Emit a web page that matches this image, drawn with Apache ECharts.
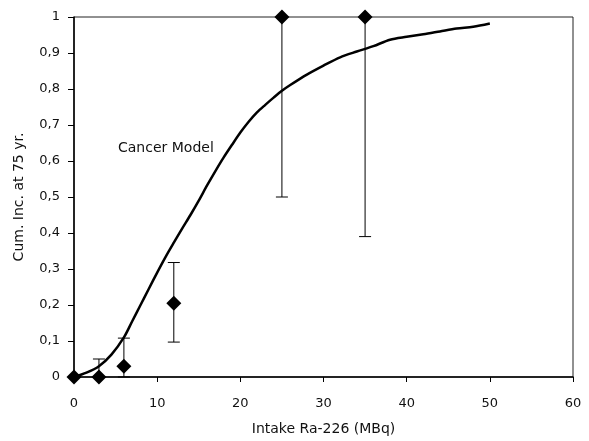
<!DOCTYPE html>
<html>
<head>
<meta charset="utf-8">
<script src="https://cdn.jsdelivr.net/npm/echarts@6/dist/echarts.min.js"></script>
<style>
  html, body { margin: 0; padding: 0; background: #fff; }
  #chart { width: 589px; height: 441px; }
</style>
</head>
<body>
<div id="chart"></div>
<script>
// Cancer model curve: cumulative incidence at age 75 vs. Ra-226 intake (MBq)
const modelIntake = [0, 1.5, 3, 4.5, 6, 7, 8, 9, 10, 11, 12, 13, 14, 15, 16, 17, 18, 19, 20,
  21, 22, 23, 24, 25, 26, 28, 30, 32, 34, 36, 38, 40, 42, 44, 46, 48, 50];
const modelIncidence = [0, 0.012, 0.03, 0.062, 0.11, 0.155, 0.2, 0.245, 0.29, 0.333, 0.373,
  0.412, 0.45, 0.49, 0.532, 0.572, 0.61, 0.645, 0.679, 0.709, 0.735, 0.756, 0.776, 0.795,
  0.811, 0.84, 0.865, 0.888, 0.904, 0.919, 0.937, 0.945, 0.952, 0.96, 0.968, 0.973, 0.982];

// Observed groups with their error bars
const obsIntake = [0, 3, 6, 12, 25, 35];
const obsIncidence = [0, 0, 0.03, 0.205, 1, 1];
const obsLower = [null, 0, 0, 0.097, 0.5, 0.39];
const obsUpper = [null, 0.05, 0.108, 0.318, 1, 1];

// Axis tick labels
const xTickLabels = ['0', '10', '20', '30', '40', '50', '60'];
const yTickLabels = ['0', '0,1', '0,2', '0,3', '0,4', '0,5', '0,6', '0,7', '0,8', '0,9', '1'];

const FONT = 'DejaVu Sans';

const curveData = modelIntake.map((x, i) => [x, modelIncidence[i]]);
const pointData = obsIntake.map((x, i) => [x, obsIncidence[i]]);
const barData = [];
obsIntake.forEach((x, i) => {
  if (obsLower[i] !== null) barData.push([x, obsLower[i], obsUpper[i]]);
});

const chart = echarts.init(document.getElementById('chart'), null, { renderer: 'canvas' });

chart.setOption({
  animation: false,
  backgroundColor: '#ffffff',
  grid: {
    left: 74, right: 16, top: 17, bottom: 62,
    show: true, borderColor: '#222', borderWidth: 1, backgroundColor: 'transparent'
  },
  xAxis: {
    type: 'value', min: 0, max: 60, interval: 10,
    name: 'Intake Ra-226 (MBq)', nameLocation: 'middle', nameGap: 45,
    nameTextStyle: { fontFamily: FONT, fontSize: 14, color: '#111' },
    axisLine: { show: true, onZero: false, lineStyle: { color: '#000', width: 1.5 } },
    axisTick: { show: true, inside: false, length: 5, lineStyle: { color: '#000' } },
    axisLabel: {
      margin: 20, fontFamily: FONT, fontSize: 13, color: '#111',
      formatter: v => xTickLabels[Math.round(v / 10)]
    },
    splitLine: { show: false }
  },
  yAxis: {
    type: 'value', min: 0, max: 1, interval: 0.1,
    name: 'Cum. Inc. at 75 yr.', nameLocation: 'middle', nameGap: 48,
    nameTextStyle: { fontFamily: FONT, fontSize: 14, color: '#111' },
    axisLine: { show: true, onZero: false, lineStyle: { color: '#000', width: 1.5 } },
    axisTick: { show: true, inside: false, length: 6, lineStyle: { color: '#000' } },
    axisLabel: {
      margin: 14, fontFamily: FONT, fontSize: 13, color: '#111',
      formatter: v => yTickLabels[Math.round(v * 10)]
    },
    splitLine: { show: false }
  },
  graphic: [{
    type: 'text', left: 118, top: 141, silent: true,
    style: { text: 'Cancer Model', fontFamily: FONT, fontSize: 14, fill: '#111' }
  }],
  series: [
    {
      name: 'Cancer Model', type: 'line', data: curveData, smooth: 0.3,
      showSymbol: false, clip: false,
      lineStyle: { color: '#000', width: 2.5 }, z: 2
    },
    {
      type: 'custom', data: barData, clip: false, z: 3,
      renderItem: (params, api) => {
        const x = api.value(0);
        const lo = api.coord([x, api.value(1)]);
        const hi = api.coord([x, api.value(2)]);
        const cap = 6;
        const style = { stroke: '#000', lineWidth: 1 };
        return {
          type: 'group',
          children: [
            { type: 'line', shape: { x1: lo[0], y1: lo[1], x2: hi[0], y2: hi[1] }, style },
            { type: 'line', shape: { x1: lo[0] - cap, y1: lo[1], x2: lo[0] + cap, y2: lo[1] }, style },
            { type: 'line', shape: { x1: hi[0] - cap, y1: hi[1], x2: hi[0] + cap, y2: hi[1] }, style }
          ]
        };
      }
    },
    {
      type: 'scatter', data: pointData, symbol: 'diamond', symbolSize: [15, 15],
      clip: false, itemStyle: { color: '#000', opacity: 1 }, z: 4
    }
  ]
});
</script>
</body>
</html>
